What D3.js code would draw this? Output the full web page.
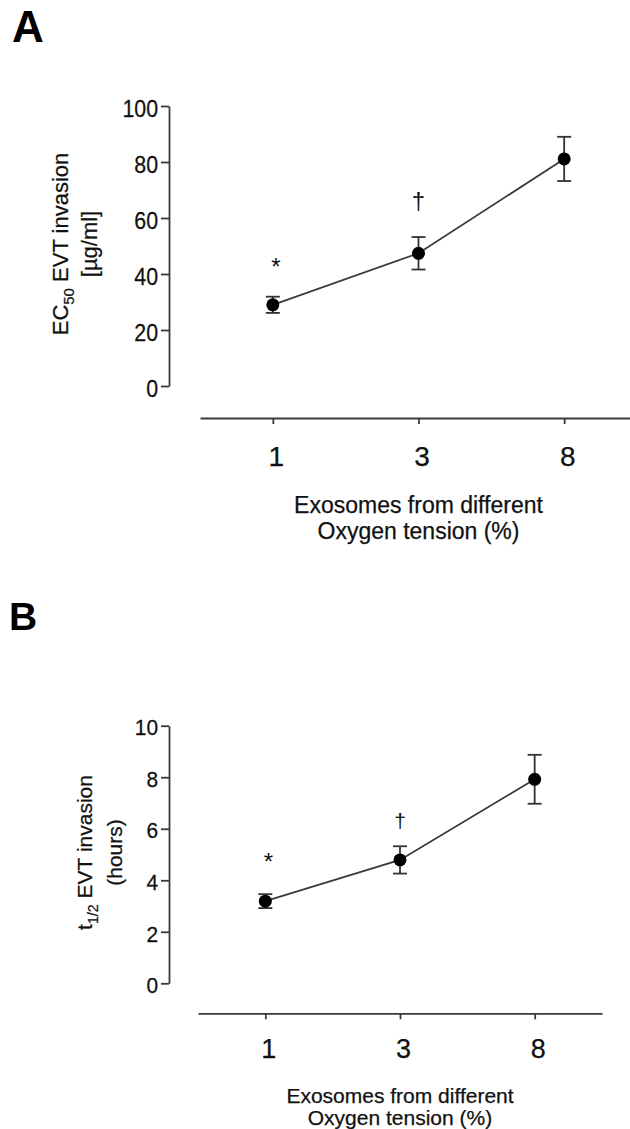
<!DOCTYPE html>
<html>
<head>
<meta charset="utf-8">
<script src="https://cdn.jsdelivr.net/npm/d3@7"></script>
<style>
  body { margin: 0; background: #fff; }
  svg { display: block; font-family: "Liberation Sans", Arial, sans-serif; }
  .axis path, .axis line { stroke: #3a3a3a; stroke-width: 1.8; }
  .axis text { fill: #111; font-family: "Liberation Sans", Arial, sans-serif; stroke: #111; stroke-width: 0.25; }
  .lbl { stroke: #111; stroke-width: 0.25; }
</style>
</head>
<body>
<div id="chart"></div>
<script>
// oxygen tension of the exosome source (%)
var oxygenLevels = ["1", "3", "8"];

// panel A: EC50 of EVT invasion (ug/ml), mean and error
var ec50Mean = [29, 47.4, 81.1];
var ec50Err = [2.9, 5.8, 7.9];
var ec50Ticks = [0, 20, 40, 60, 80, 100];

// panel B: t1/2 of EVT invasion (hours), mean and error
var halfLifeMean = [3.19, 4.79, 7.92];
var halfLifeErr = [0.27, 0.53, 0.95];
var halfLifeTicks = [0, 2, 4, 6, 8, 10];

// significance marks above each point
var sigMarks = ["*", "\u2020", ""];

var svgWidth = 630;
var svgHeight = 1129;

var svg = d3.select("#chart")
  .append("svg")
  .attr("width", svgWidth)
  .attr("height", svgHeight);

svg.append("rect")
  .attr("width", svgWidth)
  .attr("height", svgHeight)
  .attr("fill", "#fff");

function drawPanel(p) {
  var g = svg.append("g");

  var x = d3.scalePoint()
    .domain(oxygenLevels)
    .range(p.xRange)
    .padding(0.5);

  var y = d3.scaleLinear()
    .domain([0, d3.max(p.ticks)])
    .range(p.yRange);

  // panel letter
  g.append("text")
    .attr("x", p.letterPos[0])
    .attr("y", p.letterPos[1])
    .attr("font-size", p.letterFont)
    .attr("font-weight", "bold")
    .attr("fill", "#000")
    .text(p.letter);

  // y axis
  var yAxis = g.append("g")
    .attr("class", "axis")
    .attr("transform", `translate(${p.yAxisX}, 0)`)
    .call(d3.axisLeft(y).tickValues(p.ticks).tickSize(8).tickSizeOuter(0).tickPadding(3));
  // tick digits are a little narrower than plain Arial in the original
  yAxis.selectAll("text")
    .attr("font-size", p.yTickFont)
    .attr("x", -11 / p.yTickSquash)
    .attr("transform", `scale(${p.yTickSquash}, 1)`)
    .attr("dy", "0.42em");

  // x axis, detached below the plot
  var xAxis = g.append("g")
    .attr("class", "axis")
    .attr("transform", `translate(0, ${p.xAxisY})`)
    .call(d3.axisBottom(x).tickSize(6).tickSizeOuter(0));
  xAxis.selectAll("text")
    .attr("font-size", p.xTickFont)
    .attr("y", p.tickLabelY)
    .attr("dy", 0)
    .attr("dx", 3);

  // y label, two lines, rotated
  var yMid = (p.yRange[0] + p.yRange[1]) / 2 - 2;
  var yl1 = g.append("text")
    .attr("class", "lbl")
    .attr("transform", `translate(${p.yLabelX[0]}, ${yMid}) rotate(-90)`)
    .attr("text-anchor", "middle")
    .attr("font-size", p.yLabelFont)
    .attr("fill", "#111");
  yl1.append("tspan").text(p.yLabel[0]);
  yl1.append("tspan").attr("font-size", p.yLabelFont * 0.68).attr("dy", 6).text(p.yLabel[1]);
  yl1.append("tspan").attr("dy", -6).text(p.yLabel[2]);

  g.append("text")
    .attr("class", "lbl")
    .attr("transform", `translate(${p.yLabelX[1]}, ${yMid}) rotate(-90)`)
    .attr("text-anchor", "middle")
    .attr("font-size", p.yLabelFont)
    .attr("fill", "#111")
    .text(p.yLabel[3]);

  // x label, two lines
  var xMid = x(oxygenLevels[1]);
  p.xLabel.forEach(function(line, i) {
    g.append("text")
      .attr("class", "lbl")
      .attr("x", xMid)
      .attr("y", p.xLabelBaselines[i])
      .attr("text-anchor", "middle")
      .attr("font-size", p.xLabelFont)
      .attr("fill", "#111")
      .text(line);
  });

  var rows = oxygenLevels.map(function(o, i) {
    return { o: o, mean: p.mean[i], err: p.err[i], mark: sigMarks[i], off: p.markOffset[i] };
  });

  // connecting line
  var line = d3.line()
    .x(d => x(d.o))
    .y(d => y(d.mean));

  g.append("path")
    .datum(rows)
    .attr("d", line)
    .attr("fill", "none")
    .attr("stroke", "#3a3a3a")
    .attr("stroke-width", 1.8);

  // error bars
  var bars = g.selectAll(".err")
    .data(rows).enter()
    .append("g")
    .attr("stroke", "#333")
    .attr("stroke-width", 1.8);

  bars.append("line")
    .attr("x1", d => x(d.o))
    .attr("x2", d => x(d.o))
    .attr("y1", d => y(d.mean - d.err))
    .attr("y2", d => y(d.mean + d.err));

  bars.append("line")
    .attr("x1", d => x(d.o) - 7)
    .attr("x2", d => x(d.o) + 7)
    .attr("y1", d => y(d.mean + d.err))
    .attr("y2", d => y(d.mean + d.err));

  bars.append("line")
    .attr("x1", d => x(d.o) - 7)
    .attr("x2", d => x(d.o) + 7)
    .attr("y1", d => y(d.mean - d.err))
    .attr("y2", d => y(d.mean - d.err));

  // points
  g.selectAll(".pt")
    .data(rows).enter()
    .append("circle")
    .attr("cx", d => x(d.o))
    .attr("cy", d => y(d.mean))
    .attr("r", 6.5)
    .attr("fill", "#000");

  // significance marks
  g.selectAll(".mark")
    .data(rows.filter(d => d.mark)).enter()
    .append("text")
    .attr("x", d => x(d.o) + (d.mark === "*" ? 3 : 0))
    .attr("y", d => y(d.mean + d.err) - d.off)
    .attr("text-anchor", "middle")
    .attr("font-size", d => d.mark === "*" ? 24 : p.daggerFont)
    .attr("dy", d => d.mark === "*" ? "0.58em" : "0.27em")
    .attr("fill", "#111")
    .text(d => d.mark);
}

drawPanel({
  letter: "A", letterFont: 44, letterPos: [12, 42],
  mean: ec50Mean, err: ec50Err, ticks: ec50Ticks,
  yAxisX: 169, yRange: [386, 106],
  xAxisY: 418, xRange: [200, 637],
  yTickFont: 24, yTickSquash: 0.89, xTickFont: 28, tickLabelY: 48,
  yLabel: ["EC", "50", " EVT invasion", "[\u00b5g/ml]"],
  yLabelX: [68, 97], yLabelFont: 22,
  xLabel: ["Exosomes from different", "Oxygen tension (%)"],
  xLabelBaselines: [513, 539], xLabelFont: 23,
  markOffset: [36, 35, 0], daggerFont: 24
});

drawPanel({
  letter: "B", letterFont: 39, letterPos: [9, 630],
  mean: halfLifeMean, err: halfLifeErr, ticks: halfLifeTicks,
  yAxisX: 169, yRange: [983.3, 725.7],
  xAxisY: 1013.3, xRange: [198, 602],
  yTickFont: 22, yTickSquash: 0.95, xTickFont: 27, tickLabelY: 45,
  yLabel: ["t", "1/2", " EVT invasion", "(hours)"],
  yLabelX: [92, 122], yLabelFont: 21,
  xLabel: ["Exosomes from different", "Oxygen tension (%)"],
  xLabelBaselines: [1103, 1125], xLabelFont: 21,
  markOffset: [38, 24, 0], daggerFont: 21
});
</script>
</body>
</html>
